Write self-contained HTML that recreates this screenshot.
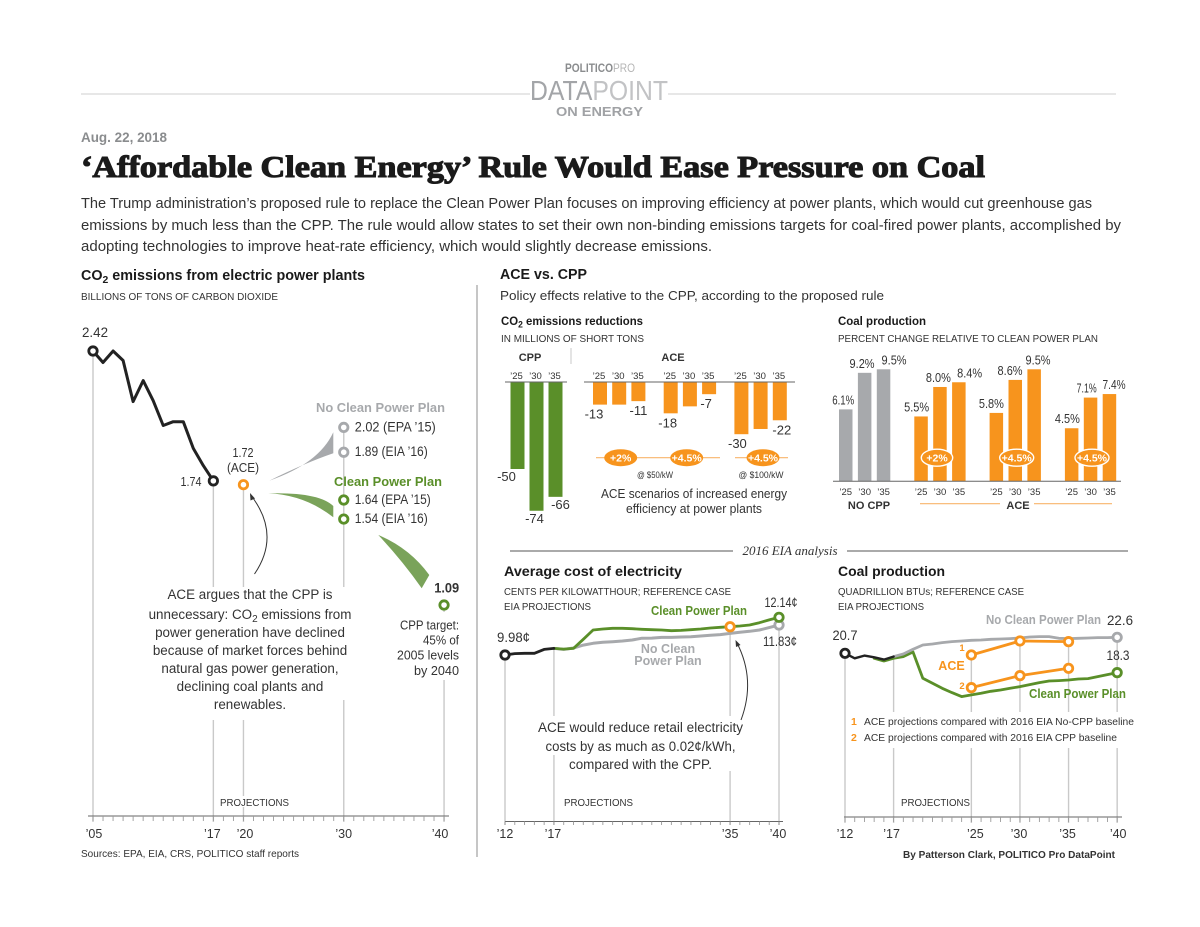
<!DOCTYPE html>
<html lang="en">
<head>
<meta charset="utf-8">
<title>Affordable Clean Energy Rule Would Ease Pressure on Coal</title>
<style>
html,body{margin:0;padding:0;background:#fff;width:1200px;height:927px;overflow:hidden}
svg{display:block}
text{font-family:"Liberation Sans",sans-serif;fill:#333}
.b{font-weight:bold}
.m{text-anchor:middle}
.r{text-anchor:end}
</style>
</head>
<body>
<svg id="page" xmlns="http://www.w3.org/2000/svg" width="1200" height="927" viewBox="0 0 1200 927">
<rect x="0" y="0" width="1200" height="927" fill="#fff"/>

<g>
  <line x1="81" x2="530" y1="94" y2="94" stroke="#cfcfcf" stroke-width="1"/>
  <line x1="668" x2="1116" y1="94" y2="94" stroke="#cfcfcf" stroke-width="1"/>
  <text x="565" y="72" font-size="12" textLength="70" lengthAdjust="spacingAndGlyphs" style="fill:#8a8c8e"><tspan font-weight="bold">POLITICO</tspan><tspan style="fill:#b5b5b5">PRO</tspan></text>
  <text x="530" y="100" font-size="28" textLength="138" lengthAdjust="spacingAndGlyphs" style="fill:#a3a5a8">DATA<tspan style="fill:#c2c3c5">POINT</tspan></text>
  <text x="556" y="116" font-size="13" font-weight="bold" textLength="87" lengthAdjust="spacingAndGlyphs" style="fill:#a0a2a5">ON ENERGY</text>
</g>

<g>
  <text x="81" y="142" font-size="13.5" font-weight="bold" textLength="86" lengthAdjust="spacingAndGlyphs" style="fill:#8a8c8e">Aug. 22, 2018</text>
  <text x="81" y="177" font-size="31" font-weight="bold" textLength="904" lengthAdjust="spacingAndGlyphs" stroke="#1a1a1a" stroke-width="1.1" style="font-family:'Liberation Serif',serif;fill:#1a1a1a">‘Affordable Clean Energy’ Rule Would Ease Pressure on Coal</text>
  <text x="81" y="208" font-size="15" textLength="1011" lengthAdjust="spacingAndGlyphs">The Trump administration’s proposed rule to replace the Clean Power Plan focuses on improving efficiency at power plants, which would cut greenhouse gas</text>
  <text x="81" y="230" font-size="15" textLength="1040" lengthAdjust="spacingAndGlyphs">emissions by much less than the CPP. The rule would allow states to set their own non-binding emissions targets for coal-fired power plants, accomplished by</text>
  <text x="81" y="251" font-size="15" textLength="631" lengthAdjust="spacingAndGlyphs">adopting technologies to improve heat-rate efficiency, which would slightly decrease emissions.</text>
</g>

<line x1="477" x2="477" y1="285" y2="857" stroke="#8c8c8c" stroke-width="1"/>

<g>
  <text x="81" y="280" font-size="14.5" font-weight="bold" textLength="284" lengthAdjust="spacingAndGlyphs" style="fill:#1a1a1a">CO<tspan font-size="10.5" dy="3">2</tspan><tspan dy="-3"> emissions from electric power plants</tspan></text>
  <text x="81" y="300" font-size="10.5" textLength="197" lengthAdjust="spacingAndGlyphs">BILLIONS OF TONS OF CARBON DIOXIDE</text>
  <text x="500" y="279" font-size="14.5" font-weight="bold" textLength="87" lengthAdjust="spacingAndGlyphs" style="fill:#1a1a1a">ACE vs. CPP</text>
  <text x="500" y="300" font-size="13" textLength="384" lengthAdjust="spacingAndGlyphs">Policy effects relative to the CPP, according to the proposed rule</text>
  <text x="501" y="325" font-size="12" font-weight="bold" textLength="142" lengthAdjust="spacingAndGlyphs" style="fill:#1a1a1a">CO<tspan font-size="9" dy="2.5">2</tspan><tspan dy="-2.5"> emissions reductions</tspan></text>
  <text x="501" y="342" font-size="10.5" textLength="143" lengthAdjust="spacingAndGlyphs">IN MILLIONS OF SHORT TONS</text>
  <text x="838" y="325" font-size="12" font-weight="bold" textLength="88" lengthAdjust="spacingAndGlyphs" style="fill:#1a1a1a">Coal production</text>
  <text x="838" y="342" font-size="10.5" textLength="260" lengthAdjust="spacingAndGlyphs">PERCENT CHANGE RELATIVE TO CLEAN POWER PLAN</text>
  <line x1="510" x2="733" y1="551" y2="551" stroke="#555" stroke-width="1"/>
  <line x1="847" x2="1128" y1="551" y2="551" stroke="#555" stroke-width="1"/>
  <text x="790" y="555" font-size="13" font-style="italic" text-anchor="middle" style="font-family:'Liberation Serif',serif">2016 EIA analysis</text>
  <text x="504" y="576" font-size="14" font-weight="bold" textLength="178" lengthAdjust="spacingAndGlyphs" style="fill:#1a1a1a">Average cost of electricity</text>
  <text x="504" y="595" font-size="10.5" textLength="227" lengthAdjust="spacingAndGlyphs">CENTS PER KILOWATTHOUR; REFERENCE CASE</text>
  <text x="504" y="610" font-size="10.5" textLength="87" lengthAdjust="spacingAndGlyphs">EIA PROJECTIONS</text>
  <text x="838" y="576" font-size="14" font-weight="bold" textLength="107" lengthAdjust="spacingAndGlyphs" style="fill:#1a1a1a">Coal production</text>
  <text x="838" y="595" font-size="10.5" textLength="186" lengthAdjust="spacingAndGlyphs">QUADRILLION BTUs; REFERENCE CASE</text>
  <text x="838" y="610" font-size="10.5" textLength="86" lengthAdjust="spacingAndGlyphs">EIA PROJECTIONS</text>
</g>

<g id="emissions-chart"></g>
<g id="reductions-chart"></g>
<g id="coal-bars-chart"></g>
<g id="cost-chart"></g>
<g id="coal-lines-chart"></g>

<g id="annotations">
  <path d="M269.3 480.7Q319 463.5 333.3 432.3L333.3 453.3Q305 463 269.3 480.7Z" fill="#a7a9ac"/>
  <path d="M268.3 493.3Q319 492 333.3 506L333.3 517.3Q305 495 268.3 493.3Z" fill="#7aa35a"/>
  <path d="M378.3 535Q409.5 548 429.3 575L421.7 588.3Q403 561.5 378.3 535Z" fill="#7aa35a"/>
  <path d="M254.5 574Q281 535 251.5 496" fill="none" stroke="#333" stroke-width="1"/>
  <path d="M250 493L255 498.5L250.5 500.5Z" fill="#333"/>
  <g font-size="13.4" text-anchor="middle">
    <text x="250" y="599">ACE argues that the CPP is</text>
    <text x="250" y="619">unnecessary: CO<tspan font-size="10" dy="3">2</tspan><tspan dy="-3"> emissions from</tspan></text>
    <text x="250" y="637">power generation have declined</text>
    <text x="250" y="655">because of market forces behind</text>
    <text x="250" y="673">natural gas power generation,</text>
    <text x="250" y="691">declining coal plants and</text>
    <text x="250" y="709">renewables.</text>
  </g>
  <g font-size="12.5" text-anchor="end">
    <text x="459" y="629.5" textLength="59" lengthAdjust="spacingAndGlyphs">CPP target:</text>
    <text x="459" y="644.5" textLength="36" lengthAdjust="spacingAndGlyphs">45% of</text>
    <text x="459" y="659.5" textLength="62" lengthAdjust="spacingAndGlyphs">2005 levels</text>
    <text x="459" y="675" textLength="45" lengthAdjust="spacingAndGlyphs">by 2040</text>
  </g>
  <path d="M741 720Q756 680 737 643" fill="none" stroke="#333" stroke-width="1"/>
  <path d="M735.5 640L740.5 645L736 647Z" fill="#333"/>
  <g font-size="13.5" text-anchor="middle">
    <text x="640.5" y="732" textLength="205" lengthAdjust="spacingAndGlyphs">ACE would reduce retail electricity</text>
    <text x="640.5" y="751" textLength="190" lengthAdjust="spacingAndGlyphs">costs by as much as 0.02¢/kWh,</text>
    <text x="640.5" y="769" textLength="143" lengthAdjust="spacingAndGlyphs">compared with the CPP.</text>
  </g>
  <g font-size="10.5">
    <text x="851" y="725" font-weight="bold" style="fill:#f7941d">1</text>
    <text x="864" y="725" textLength="270" lengthAdjust="spacingAndGlyphs">ACE projections compared with 2016 EIA No-CPP baseline</text>
    <text x="851" y="741" font-weight="bold" style="fill:#f7941d">2</text>
    <text x="864" y="741" textLength="253" lengthAdjust="spacingAndGlyphs">ACE projections compared with 2016 EIA CPP baseline</text>
  </g>
  <text x="81" y="857" font-size="10.5" textLength="218" lengthAdjust="spacingAndGlyphs">Sources: EPA, EIA, CRS, POLITICO staff reports</text>
  <text x="903" y="858" font-size="10.5" font-weight="bold" textLength="212" lengthAdjust="spacingAndGlyphs">By Patterson Clark, POLITICO Pro DataPoint</text>
</g>
</svg>

<script>
/* ---------- Data: CO2 emissions chart ---------- */
var emissionsYears = [2005,2006,2007,2008,2009,2010,2011,2012,2013,2014,2015,2016,2017];
var emissionsValues = [2.42,2.36,2.42,2.37,2.155,2.265,2.16,2.03,2.05,2.05,1.91,1.82,1.74];
var emissionsTickYears = [2005,2017,2020,2030,2040];
var emissionsTickLabels = ["’05","’17","’20","’30","’40"];
var aceEmissions = 1.72;
var noCppEmissions = [2.02,1.89];
var noCppEmissionLabels = ["2.02 (EPA ’15)","1.89 (EIA ’16)"];
var cppEmissions = [1.64,1.54];
var cppEmissionLabels = ["1.64 (EPA ’15)","1.54 (EIA ’16)"];
var cppTarget = 1.09;

/* ---------- Data: CO2 reductions bars ---------- */
var barYearLabels = ["’25","’30","’35"];
var cppReductions = [-50,-74,-66];
var cppReductionLabels = ["-50","-74","-66"];
var aceReductions = [[-13,-13,-11],[-18,-14,-7],[-30,-27,-22]];
var aceReductionLabels = [["-13","","-11"],["-18","","-7"],["-30","","-22"]];

/* ---------- Data: coal production bars ---------- */
var noCppCoalChange = [6.1,9.2,9.5];
var noCppCoalLabels = ["6.1%","9.2%","9.5%"];
var aceCoalChange = [[5.5,8.0,8.4],[5.8,8.6,9.5],[4.5,7.1,7.4]];
var aceCoalLabels = [["5.5%","8.0%","8.4%"],["5.8%","8.6%","9.5%"],["4.5%","7.1%","7.4%"]];
var aceScenarioLabels = ["+2%","+4.5%","+4.5%"];

/* ---------- Data: cost of electricity ---------- */
var costHistoryYears = [2012,2013,2014,2015,2016,2017];
var costHistory = [9.98,10.06,10.08,10.08,10.30,10.36];
var costProjectionYears = [2017,2018,2019,2020,2021,2022,2023,2024,2025,2026,2027,2028,2029,2030,2031,2032,2033,2034,2035,2036,2037,2038,2039,2040];
var costCpp = [10.36,10.32,10.36,10.88,11.41,11.47,11.51,11.51,11.49,11.45,11.43,11.41,11.37,11.39,11.43,11.47,11.53,11.57,11.60,11.64,11.70,11.83,11.99,12.14];
var costNoCpp = [10.36,10.30,10.38,10.55,10.65,10.71,10.74,10.78,10.84,10.94,10.95,10.99,10.99,11.01,11.03,11.07,11.11,11.15,11.22,11.28,11.34,11.41,11.55,11.70];
var costAce2035 = 11.60;
var costTickYears = [2012,2017,2035,2040];
var costTickLabels = ["’12","’17","’35","’40"];

/* ---------- Data: coal production lines ---------- */
var coalHistoryYears = [2012,2013,2014,2015,2016,2017];
var coalHistory = [20.7,20.1,20.42,20.22,19.94,20.3];
var coalNoCppYears = [2017,2018,2019,2020,2021,2022,2023,2024,2025,2026,2027,2028,2029,2030,2031,2032,2033,2034,2035,2036,2037,2038,2039,2040];
var coalNoCpp = [20.3,20.62,21.18,21.7,21.82,21.98,22.1,22.18,22.26,22.3,22.38,22.42,22.46,22.54,22.66,22.7,22.7,22.5,22.46,22.5,22.54,22.58,22.58,22.62];
var coalCppYears = [2015,2016,2017,2018,2019,2020,2021,2022,2023,2024,2025,2026,2027,2028,2029,2030,2031,2032,2033,2034,2035,2036,2037,2038,2039,2040];
var coalCpp = [20.1,19.78,20.1,20.3,20.86,17.7,17.1,16.5,15.98,15.5,15.7,15.9,16.14,16.3,16.5,16.7,16.94,17.18,17.38,17.42,17.5,17.62,17.66,17.9,18.14,18.38];
var coalAceYears = [2025,2030,2035];
var coalAceNoCppBaseline = [20.5,22.18,22.1];
var coalAceCppBaseline = [16.58,18.02,18.9];
var coalTickYears = [2012,2017,2025,2030,2035,2040];
var coalTickLabels = ["’12","’17","’25","’30","’35","’40"];

/* ---------- Helpers ---------- */
var NS = "http://www.w3.org/2000/svg";
var BLACK = "#222", GRAY = "#a7a9ac", GREEN = "#5a8f29", ORANGE = "#f7941d", RULE = "#c9c9c9";
function mk(parent, tag, attrs, txt) {
  var el = document.createElementNS(NS, tag);
  for (var k in attrs) { el.setAttribute(k, attrs[k]); }
  if (txt !== undefined) { el.textContent = txt; }
  parent.appendChild(el);
  return el;
}
function pathFrom(xs, ys, xf, yf) {
  return xs.map(function (x, i) { return (i ? "L" : "M") + xf(x).toFixed(1) + " " + yf(ys[i]).toFixed(1); }).join("");
}
function drawLine(parent, xs, ys, xf, yf, color, width, name) {
  var el = mk(parent, "path", {d: pathFrom(xs, ys, xf, yf), fill: "none", stroke: color, "stroke-width": width, "stroke-linejoin": "round", "stroke-linecap": "round"});
  
  
  return el;
}
function ring(parent, x, y, color, name) {
  var el = mk(parent, "circle", {cx: x, cy: y, r: 4.2, fill: "#fff", stroke: color, "stroke-width": 2.8});
  
  
  return el;
}
function label(parent, x, y, size, str, name, opt) {
  opt = opt || {};
  var attrs = {x: x, y: y, "font-size": size, "text-anchor": opt.anchor || "middle"};
  if (opt.bold) { attrs["font-weight"] = "bold"; }
  if (opt.color) { attrs.style = "fill:" + opt.color; }
  if (opt.len) { attrs.textLength = opt.len; attrs.lengthAdjust = "spacingAndGlyphs"; }
  var el = mk(parent, "text", attrs, str);
  
  
  return el;
}
function vline(parent, x, y1, y2, name) {
  var el = mk(parent, "line", {x1: x, x2: x, y1: y1, y2: y2, stroke: RULE, "stroke-width": 1.4});
  
  
  return el;
}
function mask(parent, x, y, w, h, name) {
  var el = mk(parent, "rect", {x: x, y: y, width: w, height: h, fill: "#fff"});
  
  
  return el;
}
function hline(parent, x1, x2, y, color, w, name) {
  var el = mk(parent, "line", {x1: x1, x2: x2, y1: y, y2: y, stroke: color, "stroke-width": w});
  
  
  return el;
}
function bar(parent, x, y, w, h, color, name) {
  var el = mk(parent, "rect", {x: x, y: y, width: w, height: h, fill: color});
  
  
  return el;
}
function pill(parent, cx, cy, rx, ry, str, outline, name) {
  var attrs = {cx: cx, cy: cy, rx: rx, ry: ry, fill: ORANGE};
  if (outline) { attrs.stroke = "#fff"; attrs["stroke-width"] = 1.4; }
  var el = mk(parent, "ellipse", attrs);
  
  
  label(parent, cx, cy + 3.8, 10.5, str, name + "-label", {bold: true, color: "#fff"});
}
function yearAxis(parent, xf, firstYear, lastYear, axisLeft, axisRight, axisY, tickLen, prefix) {
  hline(parent, axisLeft, axisRight, axisY, "#666", 1, prefix + "-x-axis");
  for (var yr = firstYear; yr <= lastYear; yr++) {
    var t = mk(parent, "line", {x1: xf(yr), x2: xf(yr), y1: axisY, y2: axisY + tickLen, stroke: "#9a9a9a", "stroke-width": 0.9});
    
    
  }
}

/* ---------- CO2 emissions chart ---------- */
(function () {
  var g = document.getElementById("emissions-chart");
  var x = function (yr) { return 93 + (yr - 2005) * 10.03; };
  var y = function (v) { return 351 + (2.42 - v) * 191; };
  var axisY = 816, bottom = 822;
  var tickDx = [1, -1, 1.5, 0, -4];
  var noCppLen = [81, 73], cppLen = [76, 73];
  var tops = [emissionsValues[0], emissionsValues[emissionsValues.length - 1], aceEmissions, noCppEmissions[0], cppTarget];
  emissionsTickYears.forEach(function (yr, i) {
    vline(g, x(yr), y(tops[i]), bottom, "gridline-" + yr);
    label(g, x(yr) + tickDx[i], 838, 12.5, emissionsTickLabels[i], "x-tick-" + yr);
  });
  mask(g, 148, 587, 192, 133, "annotation-backing");
  mask(g, 340, 587, 10, 113, "annotation-backing-right");
  mask(g, 395, 612, 70, 68, "target-note-backing");
  mask(g, 218, 796, 74, 11, "projections-backing");
  yearAxis(g, x, 2005, 2040, 88, 449, axisY, 5, "emissions");
  label(g, 254.5, 806, 10.5, "PROJECTIONS", "projections-label", {len: 69});

  drawLine(g, emissionsYears, emissionsValues, x, y, BLACK, 3, "emissions-history-line");
  ring(g, x(2005), y(emissionsValues[0]), BLACK, "emissions-start-marker");
  ring(g, x(2017), y(emissionsValues[emissionsValues.length - 1]), BLACK, "emissions-2017-marker");
  ring(g, x(2020), y(aceEmissions), ORANGE, "ace-2020-marker");
  noCppEmissions.forEach(function (v, i) {
    ring(g, x(2030), y(v), GRAY, "no-cpp-marker-" + i);
    label(g, x(2030) + 11, y(v) + 4, 13.5, noCppEmissionLabels[i], "no-cpp-value-" + i, {anchor: "start", len: noCppLen[i]});
  });
  cppEmissions.forEach(function (v, i) {
    ring(g, x(2030), y(v), GREEN, "cpp-marker-" + i);
    label(g, x(2030) + 11, y(v) + 4, 13.5, cppEmissionLabels[i], "cpp-value-" + i, {anchor: "start", len: cppLen[i]});
  });
  ring(g, x(2040), y(cppTarget), GREEN, "cpp-target-marker");

  label(g, 95, 337, 14, emissionsValues[0].toFixed(2), "start-value", {len: 26});
  label(g, 191, 486, 13, emissionsValues[emissionsValues.length - 1].toFixed(2), "value-2017", {len: 21});
  label(g, 243, 457, 13, aceEmissions.toFixed(2), "ace-value", {len: 21});
  label(g, 243, 472, 13, "(ACE)", "ace-value-tag", {len: 32});
  label(g, 446.7, 592.7, 13.5, cppTarget.toFixed(2), "cpp-target-value", {bold: true, len: 25});
  label(g, 316, 412, 13, "No Clean Power Plan", "no-cpp-series-label", {anchor: "start", bold: true, color: GRAY, len: 129});
  label(g, 334, 486, 13, "Clean Power Plan", "cpp-series-label", {anchor: "start", bold: true, color: GREEN, len: 108});
})();

/* ---------- CO2 reductions bars ---------- */
(function () {
  var g = document.getElementById("reductions-chart");
  var base = 382, unit = 1.74, barW = 14, pitch = 19.2;
  var h = function (v) { return Math.abs(v) * unit; };
  var cppDx = [-11, -2, 5];
  var aceDx = [[-6, 0, 0], [-3, 0, -3], [-4, 0, 2]];
  label(g, 530, 361, 11, "CPP", "cpp-header", {bold: true});
  label(g, 673, 361, 11, "ACE", "ace-header", {bold: true});
  var sep = vline(g, 571, 348, 364, "cpp-ace-separator");
  sep.setAttribute("stroke-width", "1");

  cppReductions.forEach(function (v, i) {
    var bx = 510.5 + i * 19;
    bar(g, bx, base, barW, h(v), GREEN, "cpp-reduction-bar-" + i);
    label(g, bx + barW / 2 - 1, 379, 9.5, barYearLabels[i], "cpp-year-" + i);
    label(g, bx + barW / 2 + cppDx[i], base + h(v) + 12, 13, cppReductionLabels[i], "cpp-reduction-value-" + i);
  });
  hline(g, 505, 567, base, "#666", 1, "cpp-axis");

  aceReductions.forEach(function (group, gi) {
    var start = 593 + gi * 70.7;
    group.forEach(function (v, i) {
      var bx = start + i * pitch;
      bar(g, bx, base, barW, h(v), ORANGE, "ace-reduction-bar-" + gi + "-" + i);
      label(g, bx + barW / 2 - 1, 379, 9.5, barYearLabels[i], "ace-year-" + gi + "-" + i);
      if (aceReductionLabels[gi][i]) {
        label(g, bx + barW / 2 + aceDx[gi][i], base + h(v) + 14, 13, aceReductionLabels[gi][i], "ace-reduction-value-" + gi + "-" + i);
      }
    });
  });
  hline(g, 584, 795, base, "#666", 1, "ace-axis");

  hline(g, 596, 720, 457.7, "#f8b56c", 1.2, "scenario-rule-50");
  hline(g, 735, 788, 457.7, "#f8b56c", 1.2, "scenario-rule-100");
  pill(g, 620.7, 457.7, 16.5, 8.5, aceScenarioLabels[0], false, "scenario-pill-2");
  pill(g, 686.7, 457.7, 16.5, 8.5, aceScenarioLabels[1], false, "scenario-pill-4-5");
  pill(g, 763, 457.7, 16.5, 8.5, aceScenarioLabels[2], false, "scenario-pill-4-5-high");
  label(g, 655, 478, 9, "@ $50/kW", "cost-50-label", {len: 36});
  label(g, 761, 478, 9, "@ $100/kW", "cost-100-label", {len: 45});
  label(g, 694, 498, 12.5, "ACE scenarios of increased energy", "scenario-caption-1", {len: 186});
  label(g, 694, 513, 12.5, "efficiency at power plants", "scenario-caption-2", {len: 136});
})();

/* ---------- Coal production bars ---------- */
(function () {
  var g = document.getElementById("coal-bars-chart");
  var base = 481.3, unit = 11.79, barW = 13.5, pitch = 18.9, groupGap = 75.3, x0 = 839;
  var top = function (v) { return base - v * unit; };
  var nudge = [[-2.5, -2.6, 10.5], [-4.4, -1.6, 10.8], [-5, -5.2, 3.9], [-4.3, -3.9, 4.6]];
  var widths = [[22, 25, 25], [25, 25, 25], [25, 25, 25], [25, 20, 23]];
  var groups = [noCppCoalChange].concat(aceCoalChange);
  var texts = [noCppCoalLabels].concat(aceCoalLabels);
  groups.forEach(function (vals, gi) {
    vals.forEach(function (v, i) {
      var bx = x0 + gi * groupGap + i * pitch;
      bar(g, bx, top(v), barW, v * unit, gi === 0 ? GRAY : ORANGE, "coal-change-bar-" + gi + "-" + i);
      label(g, bx + barW / 2 + nudge[gi][i], top(v) - 5, 13, texts[gi][i], "coal-change-value-" + gi + "-" + i, {len: widths[gi][i]});
      label(g, bx + barW / 2, 495, 9.5, barYearLabels[i], "coal-year-" + gi + "-" + i);
    });
  });
  hline(g, 833, 1121, base, "#666", 1, "coal-bars-axis");
  pill(g, 937, 457.7, 15.7, 8.5, aceScenarioLabels[0], true, "coal-pill-2");
  pill(g, 1016.7, 457.7, 17, 8.5, aceScenarioLabels[1], true, "coal-pill-4-5");
  pill(g, 1092, 457.7, 17, 8.5, aceScenarioLabels[2], true, "coal-pill-4-5-high");
  label(g, 869, 509, 11, "NO CPP", "no-cpp-group-label", {bold: true});
  label(g, 1018, 509, 11, "ACE", "ace-group-label", {bold: true});
  hline(g, 920, 1000, 503.7, "#f8b56c", 1.2, "ace-group-rule-left");
  hline(g, 1034, 1112, 503.7, "#f8b56c", 1.2, "ace-group-rule-right");
})();

/* ---------- Cost of electricity ---------- */
(function () {
  var g = document.getElementById("cost-chart");
  var x = function (yr) { return 505 + (yr - 2012) * 9.786; };
  var y = function (v) { return 655 - (v - 9.98) * 17.45; };
  var axisY = 821.5, bottom = 825, last = costCpp.length - 1;
  var tickDx = [0, -1, 0, -1];
  var tops = [costHistory[0], costHistory[costHistory.length - 1], costAce2035, costNoCpp[last]];
  costTickYears.forEach(function (yr, i) {
    vline(g, x(yr), y(tops[i]), bottom, "cost-gridline-" + yr);
    label(g, x(yr) + tickDx[i], 838, 12.5, costTickLabels[i], "cost-x-tick-" + yr);
  });
  mask(g, 535, 716, 187, 39, "cost-annotation-backing");
  mask(g, 722, 716, 30, 55, "cost-annotation-backing-right");
  yearAxis(g, x, 2012, 2040, 505, 783, axisY, 3.5, "cost");
  label(g, 598.5, 806, 10.5, "PROJECTIONS", "cost-projections-label", {len: 69});

  drawLine(g, costProjectionYears, costNoCpp, x, y, GRAY, 3, "cost-no-cpp-line");
  drawLine(g, costProjectionYears, costCpp, x, y, GREEN, 2.8, "cost-cpp-line");
  drawLine(g, costHistoryYears, costHistory, x, y, BLACK, 2.8, "cost-history-line");
  ring(g, x(2012), y(costHistory[0]), BLACK, "cost-start-marker");
  ring(g, x(2040), y(costNoCpp[last]), GRAY, "cost-no-cpp-end-marker");
  ring(g, x(2040), y(costCpp[last]), GREEN, "cost-cpp-end-marker");
  ring(g, x(2035), y(costAce2035), ORANGE, "cost-ace-marker");

  label(g, 513.5, 642, 14, costHistory[0].toFixed(2) + "¢", "cost-start-value", {len: 33});
  label(g, 781, 607, 13.5, costCpp[last].toFixed(2) + "¢", "cost-cpp-end-value", {len: 33});
  label(g, 780, 646, 13.5, "11.83¢", "cost-no-cpp-end-value", {len: 34});
  label(g, 651, 615, 12.5, "Clean Power Plan", "cost-cpp-series-label", {anchor: "start", bold: true, color: GREEN, len: 96});
  label(g, 668, 653, 12.5, "No Clean", "cost-no-cpp-series-label-1", {bold: true, color: GRAY});
  label(g, 668, 665, 12.5, "Power Plan", "cost-no-cpp-series-label-2", {bold: true, color: GRAY});
})();

/* ---------- Coal production lines ---------- */
(function () {
  var g = document.getElementById("coal-lines-chart");
  var x = function (yr) { return 845 + (yr - 2012) * 9.72; };
  var y = function (v) { return 653.3 - (v - 20.7) * 8.33; };
  var axisY = 817, bottom = 823;
  var tickDx = [0, -2, 4, -1, -1, 1];
  var tops = [coalHistory[0], coalHistory[5], coalAceNoCppBaseline[0], coalAceNoCppBaseline[1], coalAceNoCppBaseline[2], coalNoCpp[coalNoCpp.length - 1]];
  coalTickYears.forEach(function (yr, i) {
    vline(g, x(yr), y(tops[i]), bottom, "coal-gridline-" + yr);
    label(g, x(yr) + tickDx[i], 838, 12.5, coalTickLabels[i], "coal-x-tick-" + yr);
  });
  mask(g, 850, 712, 286, 36, "footnote-backing");
  yearAxis(g, x, 2012, 2040, 844, 1122, axisY, 5, "coal");
  label(g, 935.5, 806, 10.5, "PROJECTIONS", "coal-projections-label", {len: 69});

  drawLine(g, coalCppYears, coalCpp, x, y, GREEN, 2.8, "coal-cpp-line");
  drawLine(g, coalNoCppYears, coalNoCpp, x, y, GRAY, 2.8, "coal-no-cpp-line");
  drawLine(g, coalHistoryYears, coalHistory, x, y, BLACK, 2.4, "coal-history-line");
  drawLine(g, coalAceYears, coalAceNoCppBaseline, x, y, ORANGE, 2.8, "coal-ace-no-cpp-baseline-line");
  drawLine(g, coalAceYears, coalAceCppBaseline, x, y, ORANGE, 2.8, "coal-ace-cpp-baseline-line");
  coalAceYears.forEach(function (yr, i) {
    ring(g, x(yr), y(coalAceNoCppBaseline[i]), ORANGE, "coal-ace-no-cpp-marker-" + yr);
    ring(g, x(yr), y(coalAceCppBaseline[i]), ORANGE, "coal-ace-cpp-marker-" + yr);
  });
  ring(g, x(2012), y(coalHistory[0]), BLACK, "coal-start-marker");
  ring(g, x(2040), y(coalNoCpp[coalNoCpp.length - 1]), GRAY, "coal-no-cpp-end-marker");
  ring(g, x(2040), y(coalCpp[coalCpp.length - 1]), GREEN, "coal-cpp-end-marker");

  label(g, 845, 640, 14, coalHistory[0].toFixed(1), "coal-start-value", {len: 25});
  label(g, 1120, 625, 14, "22.6", "coal-no-cpp-end-value", {len: 26});
  label(g, 1118, 660, 14, "18.3", "coal-cpp-end-value", {len: 23});
  label(g, 986, 624, 12.5, "No Clean Power Plan", "coal-no-cpp-series-label", {anchor: "start", bold: true, color: GRAY, len: 115});
  label(g, 1029, 698, 12.5, "Clean Power Plan", "coal-cpp-series-label", {anchor: "start", bold: true, color: GREEN, len: 97});
  label(g, 951.5, 670, 12.5, "ACE", "coal-ace-series-label", {bold: true, color: ORANGE});
  label(g, 962, 651, 9.5, "1", "coal-ace-note-1", {bold: true, color: ORANGE});
  label(g, 962, 689, 9.5, "2", "coal-ace-note-2", {bold: true, color: ORANGE});
})();
</script>
</body>
</html>
